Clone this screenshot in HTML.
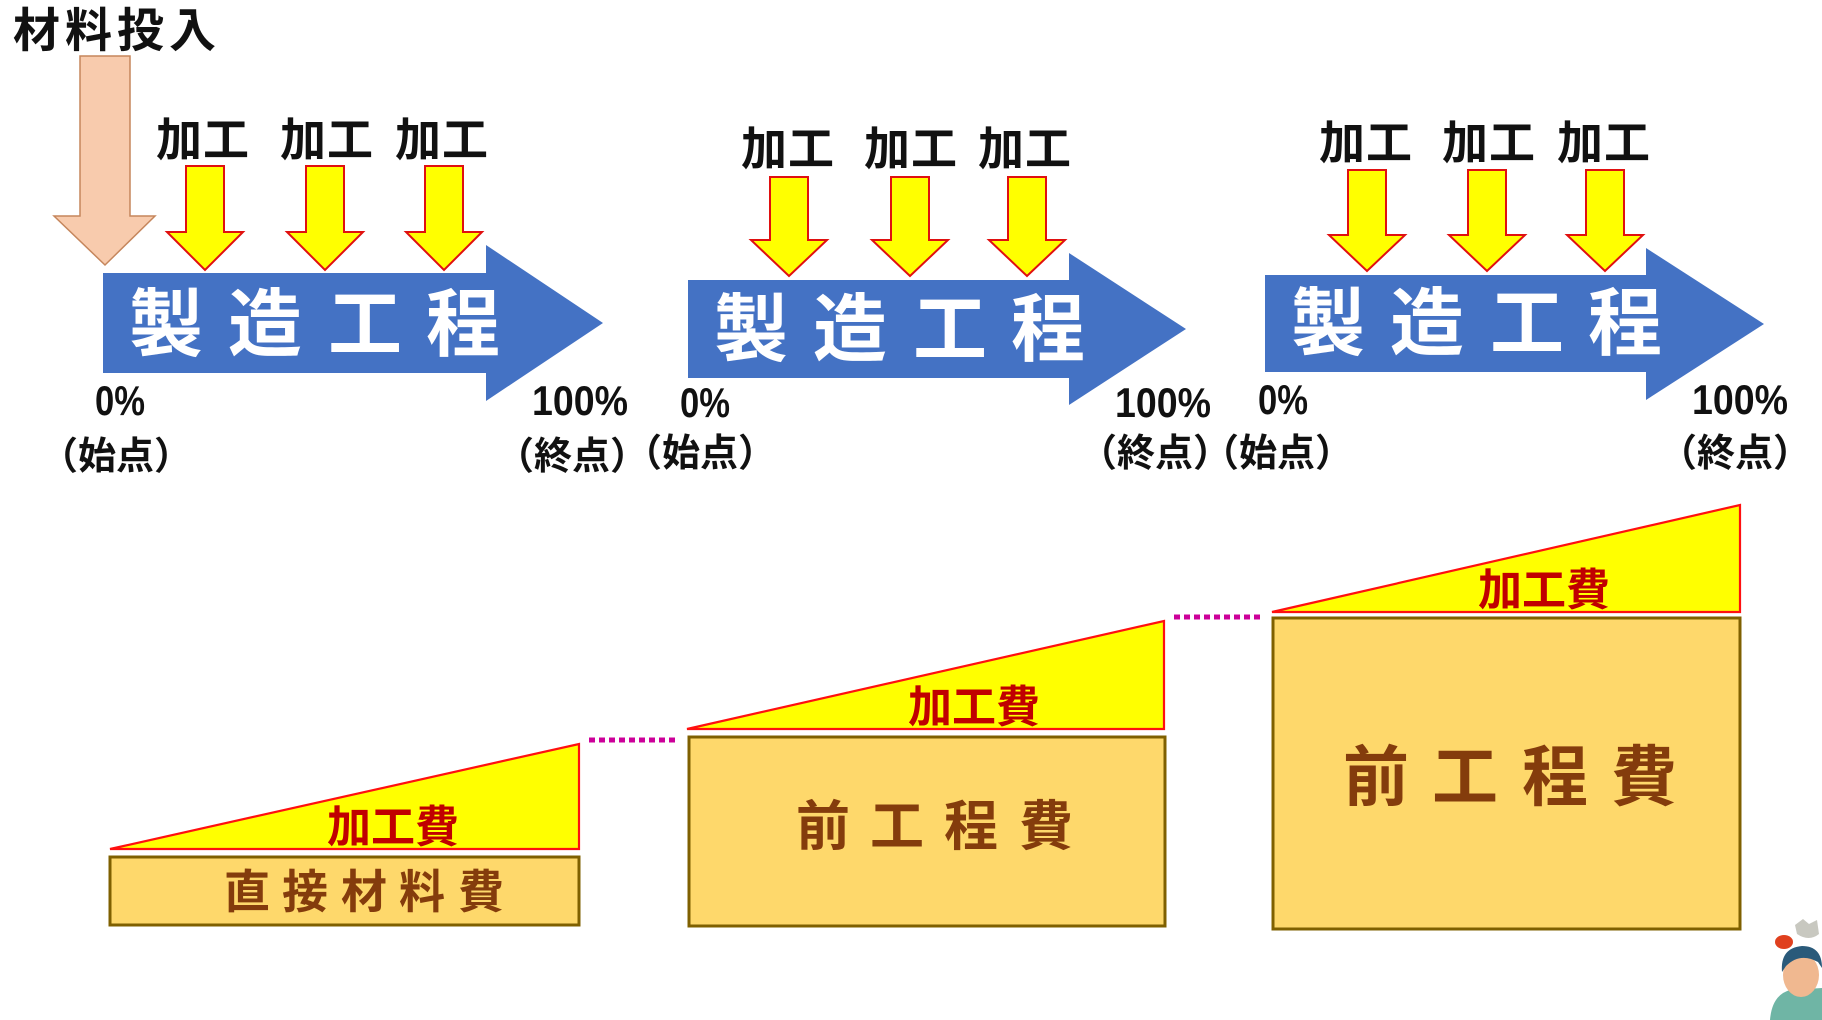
<!DOCTYPE html>
<html><head><meta charset="utf-8"><style>
html,body{margin:0;padding:0;background:#fff;}
svg{display:block;}
text{font-family:"Liberation Sans","Noto Sans CJK JP",sans-serif;}
.cjk{font-family:"Noto Sans CJK JP","Liberation Sans",sans-serif;font-weight:bold;}
</style></head><body>
<svg width="1822" height="1020" viewBox="0 0 1822 1020" xmlns="http://www.w3.org/2000/svg">
<rect width="1822" height="1020" fill="#fff"/>

<!-- 材料投入 -->
<text class="cjk" x="13" y="47" font-size="47" letter-spacing="5" fill="#111">材料投入</text>
<polygon points="80,56 130,56 130,216 155,216 105,265 54,216 80,216" fill="#f8cbad" stroke="#c5865c" stroke-width="1.5"/>

<!-- Block 1 -->
<g>
<polygon points="103,273 486,273 486,245 603,323 486,401 486,373 103,373" fill="#4472c4"/>
<g class="cjk" font-size="74" fill="#fff" text-anchor="middle">
<text x="166" y="350">製</text><text x="265" y="350">造</text><text x="365" y="350">工</text><text x="463" y="350">程</text>
</g>
<g class="cjk" font-size="46" fill="#111" text-anchor="middle" letter-spacing="1">
<text x="203" y="156">加工</text><text x="327" y="156">加工</text><text x="442" y="156">加工</text>
</g>
<g fill="#ffff00" stroke="#e01010" stroke-width="2">
<polygon points="186,166 224,166 224,232 243,232 205,270 167,232 186,232"/>
<polygon points="306,166 344,166 344,232 363,232 325,270 287,232 306,232"/>
<polygon points="425,166 463,166 463,232 482,232 444,270 406,232 425,232"/>
</g>
<text x="95" y="415" font-size="42" font-weight="bold" fill="#111" textLength="50" lengthAdjust="spacingAndGlyphs">0%</text>
<text x="532" y="415" font-size="42" font-weight="bold" fill="#111" textLength="96" lengthAdjust="spacingAndGlyphs">100%</text>
<text class="cjk" x="116" y="469" font-size="38" fill="#111" text-anchor="middle">（始点）</text>
<text class="cjk" x="572" y="469" font-size="38" fill="#111" text-anchor="middle">（終点）</text>
</g>

<!-- Block 2 -->
<g>
<polygon points="688,280 1069,280 1069,253 1186,329 1069,405 1069,378 688,378" fill="#4472c4"/>
<g class="cjk" font-size="74" fill="#fff" text-anchor="middle">
<text x="751" y="355">製</text><text x="850" y="355">造</text><text x="950" y="355">工</text><text x="1048" y="355">程</text>
</g>
<g class="cjk" font-size="46" fill="#111" text-anchor="middle" letter-spacing="1">
<text x="788" y="165">加工</text><text x="911" y="165">加工</text><text x="1025" y="165">加工</text>
</g>
<g fill="#ffff00" stroke="#e01010" stroke-width="2">
<polygon points="770,177 808,177 808,240 827,240 789,276 751,240 770,240"/>
<polygon points="891,177 929,177 929,240 948,240 910,276 872,240 891,240"/>
<polygon points="1008,177 1046,177 1046,240 1065,240 1027,276 989,240 1008,240"/>
</g>
<text x="680" y="417" font-size="42" font-weight="bold" fill="#111" textLength="50" lengthAdjust="spacingAndGlyphs">0%</text>
<text x="1115" y="417" font-size="42" font-weight="bold" fill="#111" textLength="96" lengthAdjust="spacingAndGlyphs">100%</text>
<text class="cjk" x="700" y="466" font-size="38" fill="#111" text-anchor="middle">（始点）</text>
<text class="cjk" x="1155" y="466" font-size="38" fill="#111" text-anchor="middle">（終点）</text>
</g>

<!-- Block 3 -->
<g>
<polygon points="1265,275 1646,275 1646,248 1764,324 1646,400 1646,372 1265,372" fill="#4472c4"/>
<g class="cjk" font-size="74" fill="#fff" text-anchor="middle">
<text x="1328" y="349">製</text><text x="1427" y="349">造</text><text x="1527" y="349">工</text><text x="1625" y="349">程</text>
</g>
<g class="cjk" font-size="46" fill="#111" text-anchor="middle" letter-spacing="1">
<text x="1366" y="159">加工</text><text x="1489" y="159">加工</text><text x="1604" y="159">加工</text>
</g>
<g fill="#ffff00" stroke="#e01010" stroke-width="2">
<polygon points="1348,170 1386,170 1386,235 1405,235 1367,271 1329,235 1348,235"/>
<polygon points="1468,170 1506,170 1506,235 1525,235 1487,271 1449,235 1468,235"/>
<polygon points="1586,170 1624,170 1624,235 1643,235 1605,271 1567,235 1586,235"/>
</g>
<text x="1258" y="414" font-size="42" font-weight="bold" fill="#111" textLength="50" lengthAdjust="spacingAndGlyphs">0%</text>
<text x="1692" y="414" font-size="42" font-weight="bold" fill="#111" textLength="96" lengthAdjust="spacingAndGlyphs">100%</text>
<text class="cjk" x="1277" y="466" font-size="38" fill="#111" text-anchor="middle">（始点）</text>
<text class="cjk" x="1735" y="466" font-size="38" fill="#111" text-anchor="middle">（終点）</text>
</g>

<!-- Bottom: cost diagrams -->
<g stroke="#cc0099" stroke-width="5" stroke-dasharray="6 4">
<line x1="589" y1="740" x2="677" y2="740"/>
<line x1="1174" y1="617" x2="1264" y2="617"/>
</g>

<g fill="#ffff00" stroke="#ff1010" stroke-width="2.2">
<polygon points="110,849 579,744 579,849"/>
<polygon points="687,729 1164,621 1164,729"/>
<polygon points="1272,612 1740,505 1740,612"/>
</g>
<g class="cjk" font-size="44" fill="#c00000" text-anchor="middle">
<text x="393" y="842">加工費</text>
<text x="974" y="722">加工費</text>
<text x="1544" y="605">加工費</text>
</g>

<g fill="#fed86b" stroke="#7f6000" stroke-width="3">
<rect x="110" y="857" width="469" height="68"/>
<rect x="689" y="737" width="476" height="189"/>
<rect x="1273" y="618" width="467" height="311"/>
</g>
<g class="cjk" fill="#843c0c" text-anchor="middle">
<g font-size="46">
<text x="247" y="908">直</text><text x="305" y="908">接</text><text x="364" y="908">材</text><text x="422" y="908">料</text><text x="481" y="908">費</text>
</g>
<g font-size="54">
<text x="823" y="845">前</text><text x="897" y="845">工</text><text x="971" y="845">程</text><text x="1046" y="845">費</text>
</g>
<g font-size="66">
<text x="1376" y="800">前</text><text x="1465" y="800">工</text><text x="1555" y="800">程</text><text x="1644" y="800">費</text>
</g>
</g>

<!-- small character illustration -->
<g>
<path d="M1770,1020 Q1772,995 1790,990 L1822,988 L1822,1020 Z" fill="#6fb5a5"/>
<ellipse cx="1801" cy="975" rx="18" ry="22" fill="#f0b890"/>
<path d="M1782,972 Q1780,948 1802,946 Q1822,946 1822,968 L1818,962 Q1800,952 1786,966 Z" fill="#2a5a7a"/>
<ellipse cx="1784" cy="942" rx="9" ry="7" fill="#e0401e"/>
<path d="M1795,925 l8,-6 l6,5 l8,-4 l2,14 q-10,8 -22,0 Z" fill="#c8c8c0"/>
</g>
</svg>
</body></html>
